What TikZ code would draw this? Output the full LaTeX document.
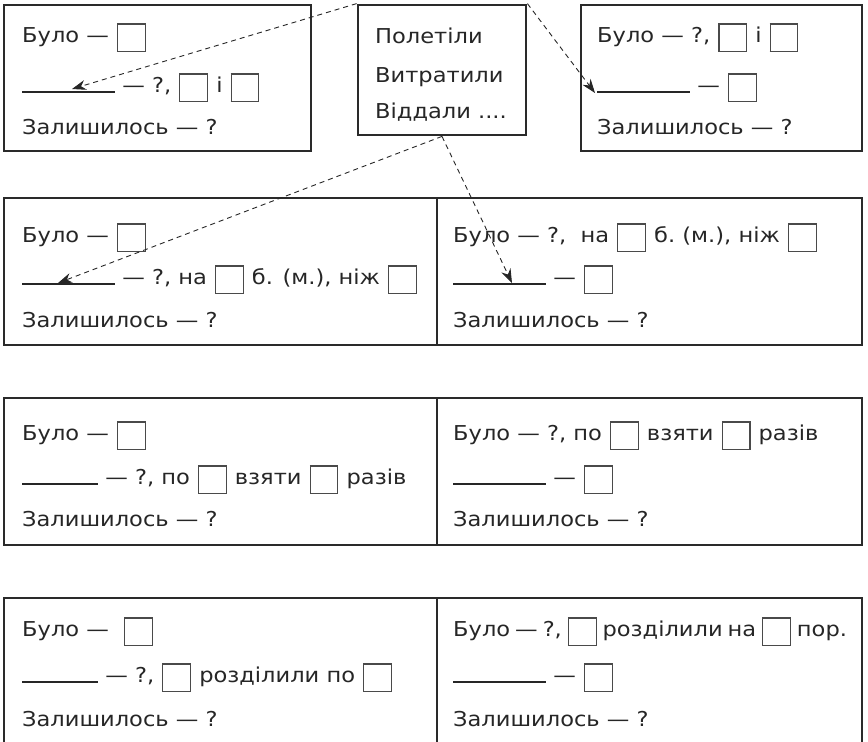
\documentclass[tikz,border=0pt]{standalone}
\usepackage{fontspec}
\setmainfont{DejaVu Sans}[FakeStretch=1.1]
\usetikzlibrary{arrows.meta}
\definecolor{frame}{HTML}{2A2A2A}
\definecolor{sqc}{HTML}{4A4A4A}
\newcommand{\bx}{\kern1pt\raisebox{-9pt}{{\color{sqc}\setlength\fboxsep{0pt}\setlength\fboxrule{1.1pt}\fbox{\rule{0pt}{26.5pt}\hspace{26.5pt}}}}\kern1pt}
\newcommand{\ulA}{\rule[-0.5pt]{93pt}{1.6pt}}
\newcommand{\ulB}{\rule[-0.5pt]{76pt}{1.6pt}}
\begin{document}
\begin{tikzpicture}[x=1pt,y=-1pt,
  frm/.style={draw=frame,line width=2.8pt},
  txt/.style={anchor=base west,inner sep=0pt,text=black!85,font=\fontsize{20.5}{24}\selectfont},
  arr/.style={draw=black!85,line width=0.9pt,dash pattern=on 5pt off 4pt,-{Stealth[length=14pt,width=10pt]}}]
\useasboundingbox (0,0) rectangle (868,742);
% frames
\draw[frm] (4,5) rectangle (311,151);
\node[frm,minimum width=168pt,minimum height=130pt,inner sep=0pt] (mid) at (442,70) {};
\draw[frm] (581,5) rectangle (862,151);
\draw[frm] (4,198) rectangle (862,345) (437,198) -- (437,345);
\draw[frm] (4,398) rectangle (862,545) (437,398) -- (437,545);
\draw[frm] (4,760) -- (4,598) -- (862,598) -- (862,760) (437,598) -- (437,760);
% top left
\node[txt] (a1) at (22,42) {Було — \bx};
\node[txt] (a2) at (22,92) {\ulA{} — ?, \bx{} і \bx};
\node[txt] (a3) at (22,134) {Залишилось — ?};
% middle
\node[txt] (m1) at (375,43) {Полетіли};
\node[txt] (m2) at (375,82) {Витратили};
\node[txt] (m3) at (375,118) {Віддали ....};
% top right
\node[txt] (b1) at (597,42) {Було — ?, \bx{} і \bx};
\node[txt] (b2) at (597,92) {\ulA{} — \bx};
\node[txt] (b3) at (597,134) {Залишилось — ?};
% row 2
\node[txt] (c1) at (22,242) {Було — \bx};
\node[txt] (c2) at (22,284) {\ulA{} — ?, на \bx{} б. (м.), ніж \bx};
\node[txt] (c3) at (22,327) {Залишилось — ?};
\node[txt] (d1) at (453,242) {Було — ?, \ на \bx{} б.\ (м.), ніж \bx};
\node[txt] (d2) at (453,284) {\ulA{} — \bx};
\node[txt] (d3) at (453,327) {Залишилось — ?};
% row 3
\node[txt] (e1) at (22,440) {Було — \bx};
\node[txt] (e2) at (22,484) {\ulB{} — ?, по \bx{} взяти \bx{} разів};
\node[txt] (e3) at (22,526) {Залишилось — ?};
\node[txt] (f1) at (453,440) {Було — ?, по \bx{} взяти \bx{} разів};
\node[txt] (f2) at (453,484) {\ulA{} — \bx};
\node[txt] (f3) at (453,526) {Залишилось — ?};
% row 4
\node[txt] (g1) at (22,636) {Було — \ \bx};
\node[txt] (g2) at (22,682) {\ulB{} — ?, \bx{} розділили по \bx};
\node[txt] (g3) at (22,726) {Залишилось — ?};
\node[txt] (h1) at (453,636) {\spaceskip=5pt plus 1pt Було — ?, \bx{} розділили на \bx{} пор.};
\node[txt] (h2) at (453,682) {\ulA{} — \bx};
\node[txt] (h3) at (453,726) {Залишилось — ?};
% arrow targets
\coordinate (t1) at (72,89);
\coordinate (t2) at (595,93);
\coordinate (t3) at (58,283);
\coordinate (t4) at (512,283);
\draw[arr] (mid.north west) -- (t1);
\draw[arr] (mid.north east) -- (t2);
\draw[arr] (mid.south) -- (t3);
\draw[arr] (mid.south) -- (t4);
\end{tikzpicture}
\end{document}
